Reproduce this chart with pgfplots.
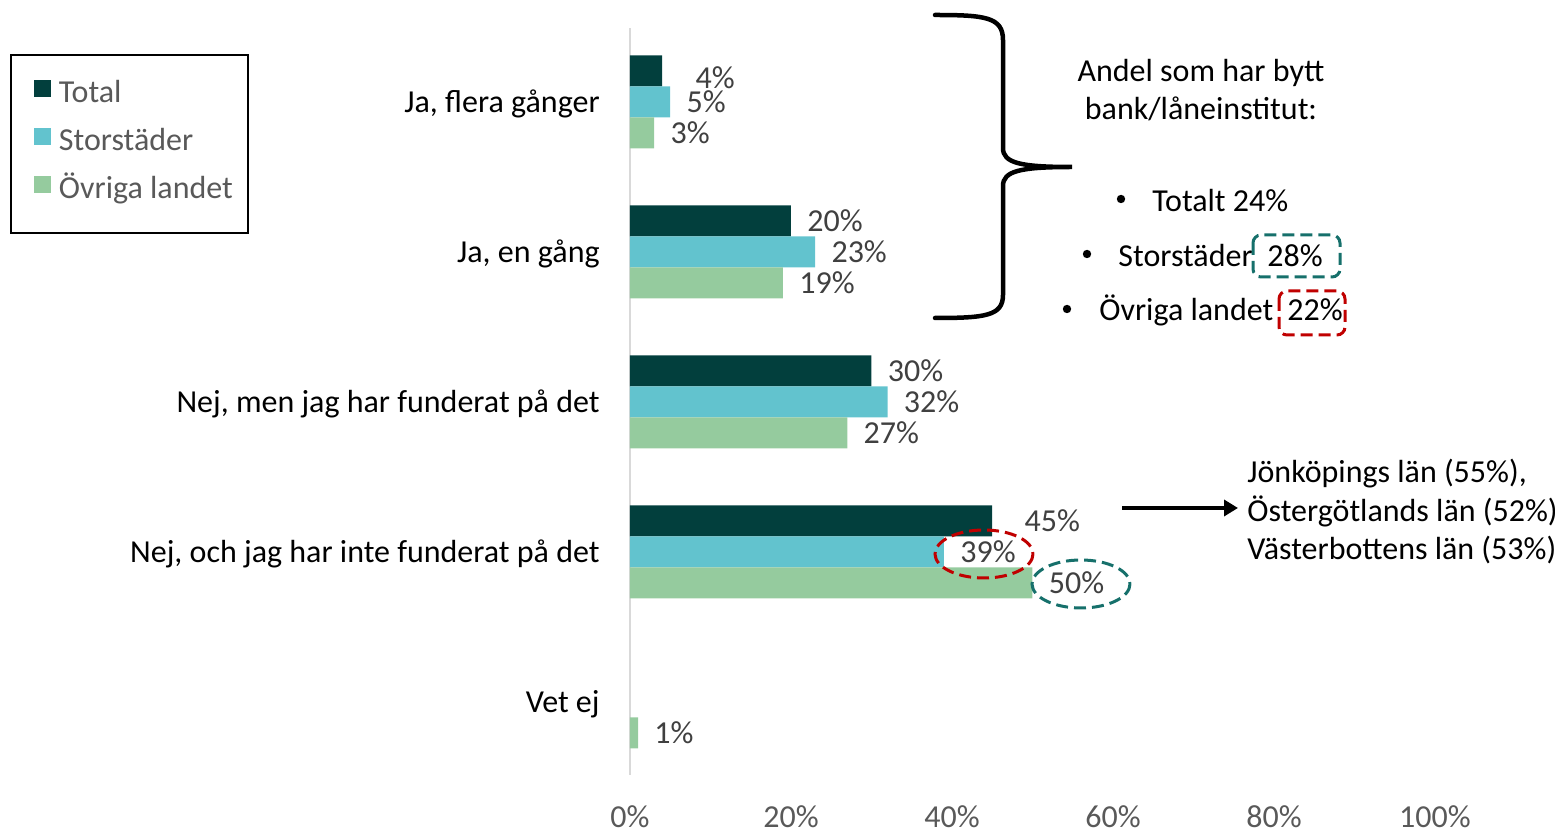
\documentclass[border=0pt]{standalone}
\usepackage{fontspec}
\setmainfont{Carlito}
\usepackage{pgfplots}
\usepackage{pgfplotstable}
\pgfplotsset{compat=1.18}
\usetikzlibrary{arrows.meta}

\definecolor{cTotal}{HTML}{023F3D}
\definecolor{cStor}{HTML}{62C3CE}
\definecolor{cOvr}{HTML}{95CB9E}
\definecolor{lbl}{HTML}{404040}
\definecolor{tickgray}{HTML}{595959}
\definecolor{axgray}{HTML}{D9D9D9}
\definecolor{tealmark}{HTML}{16706B}
\definecolor{redmark}{HTML}{C00000}
\newcommand\fs{\fontsize{16}{19.25}\selectfont}

% y: 4 = Ja, flera gånger ... 0 = Vet ej; dx/dy = extra label offset (pt)
\pgfplotstableread{
y x dx dy
4 4 8.5 -3.25
3 20 0 0
2 30 0 0
1 45 8 0
}\total
\pgfplotstableread{
y x dx dy
4 5 0 0
3 23 0 0
2 32 0 0
1 39 0 0
}\stor
\pgfplotstableread{
y x dx dy
4 3 0 0
3 19 0 0
2 27 0 0
1 50 0 0
0 1 0 0
}\ovr

\begin{document}
\begin{tikzpicture}
\begin{axis}[
    at={(315pt,-387.5pt)}, anchor=south west,
    scale only axis, width=402.5pt, height=373.5pt,
    xmin=0, xmax=100, ymin=-0.4867, ymax=4.4933,
    axis lines*=left, x axis line style={draw=none}, y axis line style={draw=axgray, line width=1pt, -},
    major tick length=0pt,
    xtick={0,20,...,100},
    xticklabel={\pgfmathprintnumber[assume math mode=true]{\tick}\%},
    xticklabel style={anchor=base, inner sep=0pt, yshift=-26.3pt, font=\fs, text=tickgray},
    ytick={0,1,2,3,4},
    yticklabels={Vet ej, {Nej, och jag har inte funderat på det}, {Nej, men jag har funderat på det}, {Ja, en gång}, {Ja, flera gånger}},
    yticklabel style={anchor=base east, inner sep=0pt, xshift=-15pt, yshift=-5.2pt, font=\fs, text=black},
    point meta=x,
    nodes near coords={\pgfmathprintnumber[assume math mode=true]{\pgfplotspointmeta}\%},
    visualization depends on={\thisrow{dx} \as \dx},
    visualization depends on={\thisrow{dy} \as \dy},
    nodes near coords style={anchor=base west, inner sep=0pt, xshift={8pt+\dx pt}, yshift={-5.5pt+\dy pt}, font=\fs, text=lbl},
    legend style={at={(-0.7702,0.9652)}, anchor=north west, draw=black, line width=1pt, fill=white,
        inner xsep=7.5pt, inner ysep=12.5pt, row sep=8pt, font=\fs, text=tickgray,
        nodes={inner sep=0pt, text height=10.5pt, text depth=4.5pt}},
    legend cell align=left,
]
\addplot[xbar, bar width=15.5pt, draw=none, fill=cTotal, bar shift=15.5pt,
    every node near coord/.append style={yshift=15.5pt},
    legend image code/.code={\path (-4pt,0) (12.5pt,0); \fill[cTotal] (0pt,0pt) rectangle (8.5pt,8.5pt);}]
    table[x=x, y=y] {\total};
\addplot[xbar, bar width=15.5pt, draw=none, fill=cStor, bar shift=0pt,
    legend image code/.code={\path (-4pt,0) (12.5pt,0); \fill[cStor] (0pt,0pt) rectangle (8.5pt,8.5pt);}]
    table[x=x, y=y] {\stor};
\addplot[xbar, bar width=15.5pt, draw=none, fill=cOvr, bar shift=-15.5pt,
    every node near coord/.append style={yshift=-15.5pt},
    legend image code/.code={\path (-4pt,0) (12.5pt,0); \fill[cOvr] (0pt,0pt) rectangle (8.5pt,8.5pt);}]
    table[x=x, y=y] {\ovr};
\legend{Total, Storstäder, Övriga landet}
\end{axis}

% annotations, in pixel units of the 1555x833 picture (y downward)
\begin{scope}[x=0.5pt, y=-0.5pt, font=\fs]
  \draw[line width=2.25pt, line cap=round]
    (935,15) .. controls (985,15) and (1003,17) .. (1003,40) -- (1003,148)
    .. controls (1003,163) and (1020,167) .. (1072,167)
    .. controls (1020,167) and (1003,171) .. (1003,186) -- (1003,295)
    .. controls (1003,316) and (985,318) .. (935,318);
  \node[anchor=base] at (1201,82) {Andel som har bytt};
  \node[anchor=base] at (1201,120) {bank/låneinstitut:};
  \fill (1121,199) circle (4.2);
  \node[anchor=base west, inner sep=0pt] at (1152,212) {Totalt 24\%};
  \fill (1087,254) circle (4.2);
  \node[anchor=base west, inner sep=0pt] at (1118,267) {Storstäder};
  \node[anchor=base west, inner sep=0pt] at (1267,267) {28\%};
  \fill (1067,309) circle (4.2);
  \node[anchor=base west, inner sep=0pt] at (1099,321) {Övriga landet};
  \node[anchor=base west, inner sep=0pt] at (1287,321) {22\%};
  \draw[tealmark, line width=1.5pt, dash pattern=on 6pt off 3pt, rounded corners=4pt] (1253,235) rectangle (1340,277);
  \draw[redmark, line width=1.5pt, dash pattern=on 6pt off 3pt, rounded corners=4pt] (1279,291) rectangle (1345,335);
  \draw[redmark, line width=1.5pt, dash pattern=on 6pt off 3pt] (984,554) ellipse (49 and 24);
  \draw[tealmark, line width=1.5pt, dash pattern=on 6pt off 3pt] (1081,584) ellipse (49 and 24);
  \draw[line width=2pt, -{Triangle[length=7pt, width=8pt]}] (1122,508) -- (1238,508);
  \node[anchor=base west, inner sep=0pt] at (1247,483) {Jönköpings län (55\%),};
  \node[anchor=base west, inner sep=0pt] at (1247,522) {Östergötlands län (52\%)};
  \node[anchor=base west, inner sep=0pt] at (1247,560) {Västerbottens län (53\%)};
  \pgfresetboundingbox
  \path[use as bounding box] (0,0) rectangle (1555,833);
\end{scope}
\end{tikzpicture}
\end{document}
